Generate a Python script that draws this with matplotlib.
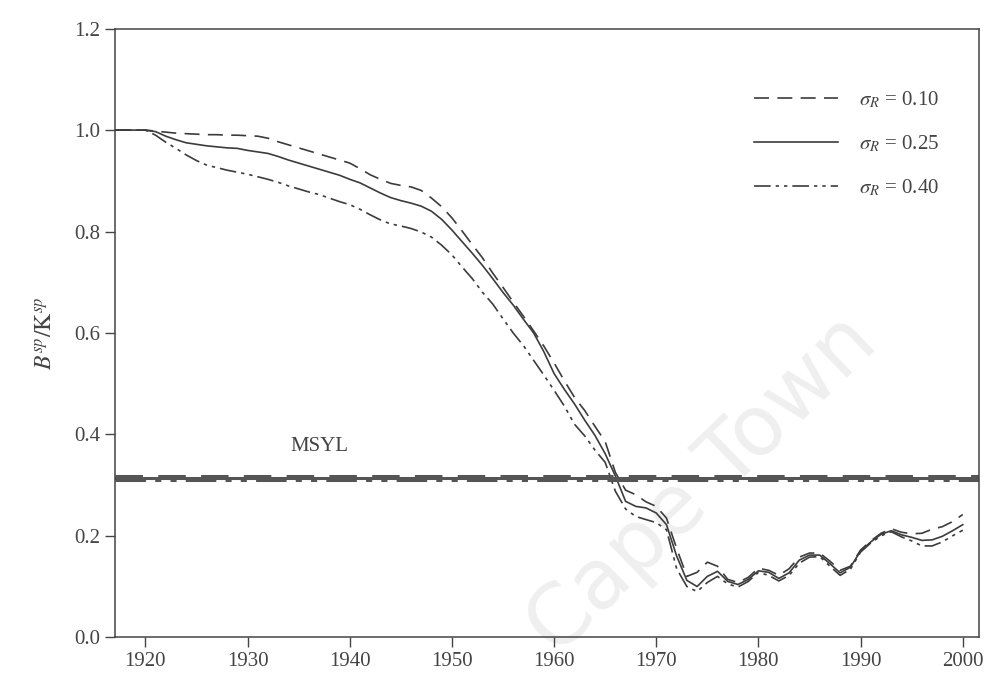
import numpy as np
import matplotlib
matplotlib.use("Agg")
import matplotlib.pyplot as plt

plt.rcParams['font.family'] = ['Liberation Serif', 'DejaVu Serif']
plt.rcParams['mathtext.fontset'] = 'stix'

years = list(range(1917, 2001))

b_sr010 = [1.000, 1.000, 1.000, 1.000, 0.998, 0.996, 0.994, 0.993, 0.992, 0.991,
           0.991, 0.990, 0.990, 0.989, 0.988, 0.984, 0.977, 0.971, 0.965, 0.959,
           0.953, 0.947, 0.941, 0.935, 0.924, 0.912, 0.903, 0.895, 0.891, 0.888,
           0.881, 0.866, 0.849, 0.827, 0.801, 0.774, 0.748, 0.718, 0.690, 0.661,
           0.633, 0.604, 0.574, 0.541, 0.506, 0.473, 0.447, 0.416, 0.386, 0.325,
           0.290, 0.281, 0.267, 0.258, 0.235, 0.175, 0.120, 0.128, 0.148, 0.140,
           0.114, 0.108, 0.118, 0.136, 0.132, 0.122, 0.135, 0.158, 0.166, 0.166,
           0.150, 0.132, 0.140, 0.172, 0.190, 0.205, 0.214, 0.207, 0.204, 0.205,
           0.213, 0.218, 0.228, 0.242]

b_sr025 = [1.000, 1.000, 1.000, 1.000, 0.997, 0.988, 0.981, 0.975, 0.972, 0.969,
           0.967, 0.965, 0.964, 0.960, 0.957, 0.954, 0.948, 0.941, 0.935, 0.929,
           0.923, 0.917, 0.911, 0.903, 0.896, 0.886, 0.876, 0.867, 0.861, 0.856,
           0.850, 0.840, 0.824, 0.803, 0.780, 0.757, 0.733, 0.707, 0.680, 0.655,
           0.627, 0.600, 0.563, 0.520, 0.489, 0.460, 0.428, 0.398, 0.362, 0.318,
           0.268, 0.258, 0.255, 0.245, 0.222, 0.160, 0.112, 0.100, 0.120, 0.130,
           0.110, 0.104, 0.114, 0.131, 0.128, 0.116, 0.127, 0.152, 0.162, 0.162,
           0.145, 0.127, 0.138, 0.170, 0.188, 0.203, 0.210, 0.202, 0.197, 0.191,
           0.192, 0.199, 0.210, 0.222]

b_sr040 = [1.000, 1.000, 1.000, 1.000, 0.990, 0.976, 0.964, 0.951, 0.940, 0.931,
           0.926, 0.921, 0.917, 0.913, 0.908, 0.903, 0.897, 0.890, 0.884, 0.878,
           0.873, 0.866, 0.859, 0.853, 0.844, 0.833, 0.823, 0.815, 0.811, 0.806,
           0.799, 0.789, 0.773, 0.754, 0.730, 0.707, 0.680, 0.657, 0.628, 0.600,
           0.575, 0.546, 0.517, 0.487, 0.456, 0.420, 0.397, 0.369, 0.345, 0.288,
           0.253, 0.238, 0.232, 0.226, 0.212, 0.135, 0.100, 0.090, 0.108, 0.120,
           0.105, 0.099, 0.110, 0.128, 0.122, 0.111, 0.122, 0.146, 0.158, 0.159,
           0.140, 0.122, 0.134, 0.168, 0.186, 0.200, 0.208, 0.198, 0.190, 0.180,
           0.180, 0.188, 0.200, 0.211]

msyl_levels = [0.318, 0.314, 0.310]
series_labels = [r'$\sigma_R$ = 0.10', r'$\sigma_R$ = 0.25', r'$\sigma_R$ = 0.40']
x_ticks = [1920, 1930, 1940, 1950, 1960, 1970, 1980, 1990, 2000]
y_ticks = [0.0, 0.2, 0.4, 0.6, 0.8, 1.0, 1.2]

fig = plt.figure(figsize=(9.89, 6.83), dpi=100)
ax = fig.add_axes([0.116, 0.067, 0.874, 0.891])

col = '#3c3c3c'
styles = [(0, (9, 5)), '-', (0, (10, 3, 2, 3, 2, 3))]
for data, ls, lab in zip([b_sr010, b_sr025, b_sr040], styles, series_labels):
    ax.plot(years, data, color=col, lw=1.2, ls=ls, label=lab)

msyl_styles = [(0, (9, 5)), '-', (0, (10, 3, 2, 3, 2, 3))]
for lvl, ls in zip(msyl_levels, msyl_styles):
    ax.axhline(lvl, color='#555555', lw=2.2, ls=ls)

ax.text(1937, 0.357, 'MSYL', fontsize=15, color='#444444', ha='center', va='bottom')

ax.set_xlim(1917, 2001.6)
ax.set_ylim(0, 1.2)
ax.set_xticks(x_ticks)
ax.set_yticks(y_ticks)
ax.set_yticklabels([f'{v:.1f}' for v in y_ticks])
ax.tick_params(direction='out', length=7, width=1, colors='#444444', labelsize=15,
               labelcolor='#444444')
for s in ax.spines.values():
    s.set_color('#444444')
    s.set_linewidth(1.1)

ax.set_ylabel(r'$B^{sp}/\mathrm{K}^{sp}$', fontsize=17, color='#444444', labelpad=12)

leg = ax.legend(loc='upper right', bbox_to_anchor=(0.975, 0.93), frameon=False,
                fontsize=15, handlelength=4.0, labelspacing=1.1, handletextpad=1.0)
for t in leg.get_texts():
    t.set_color('#444444')

fig.text(0.71, 0.29, 'Cape Town', fontsize=60, rotation=44, color='#efefef',
         ha='center', va='center', family='DejaVu Sans', zorder=0)
ax.set_zorder(1)
ax.patch.set_alpha(0)

fig.savefig('out.png', dpi=100)
